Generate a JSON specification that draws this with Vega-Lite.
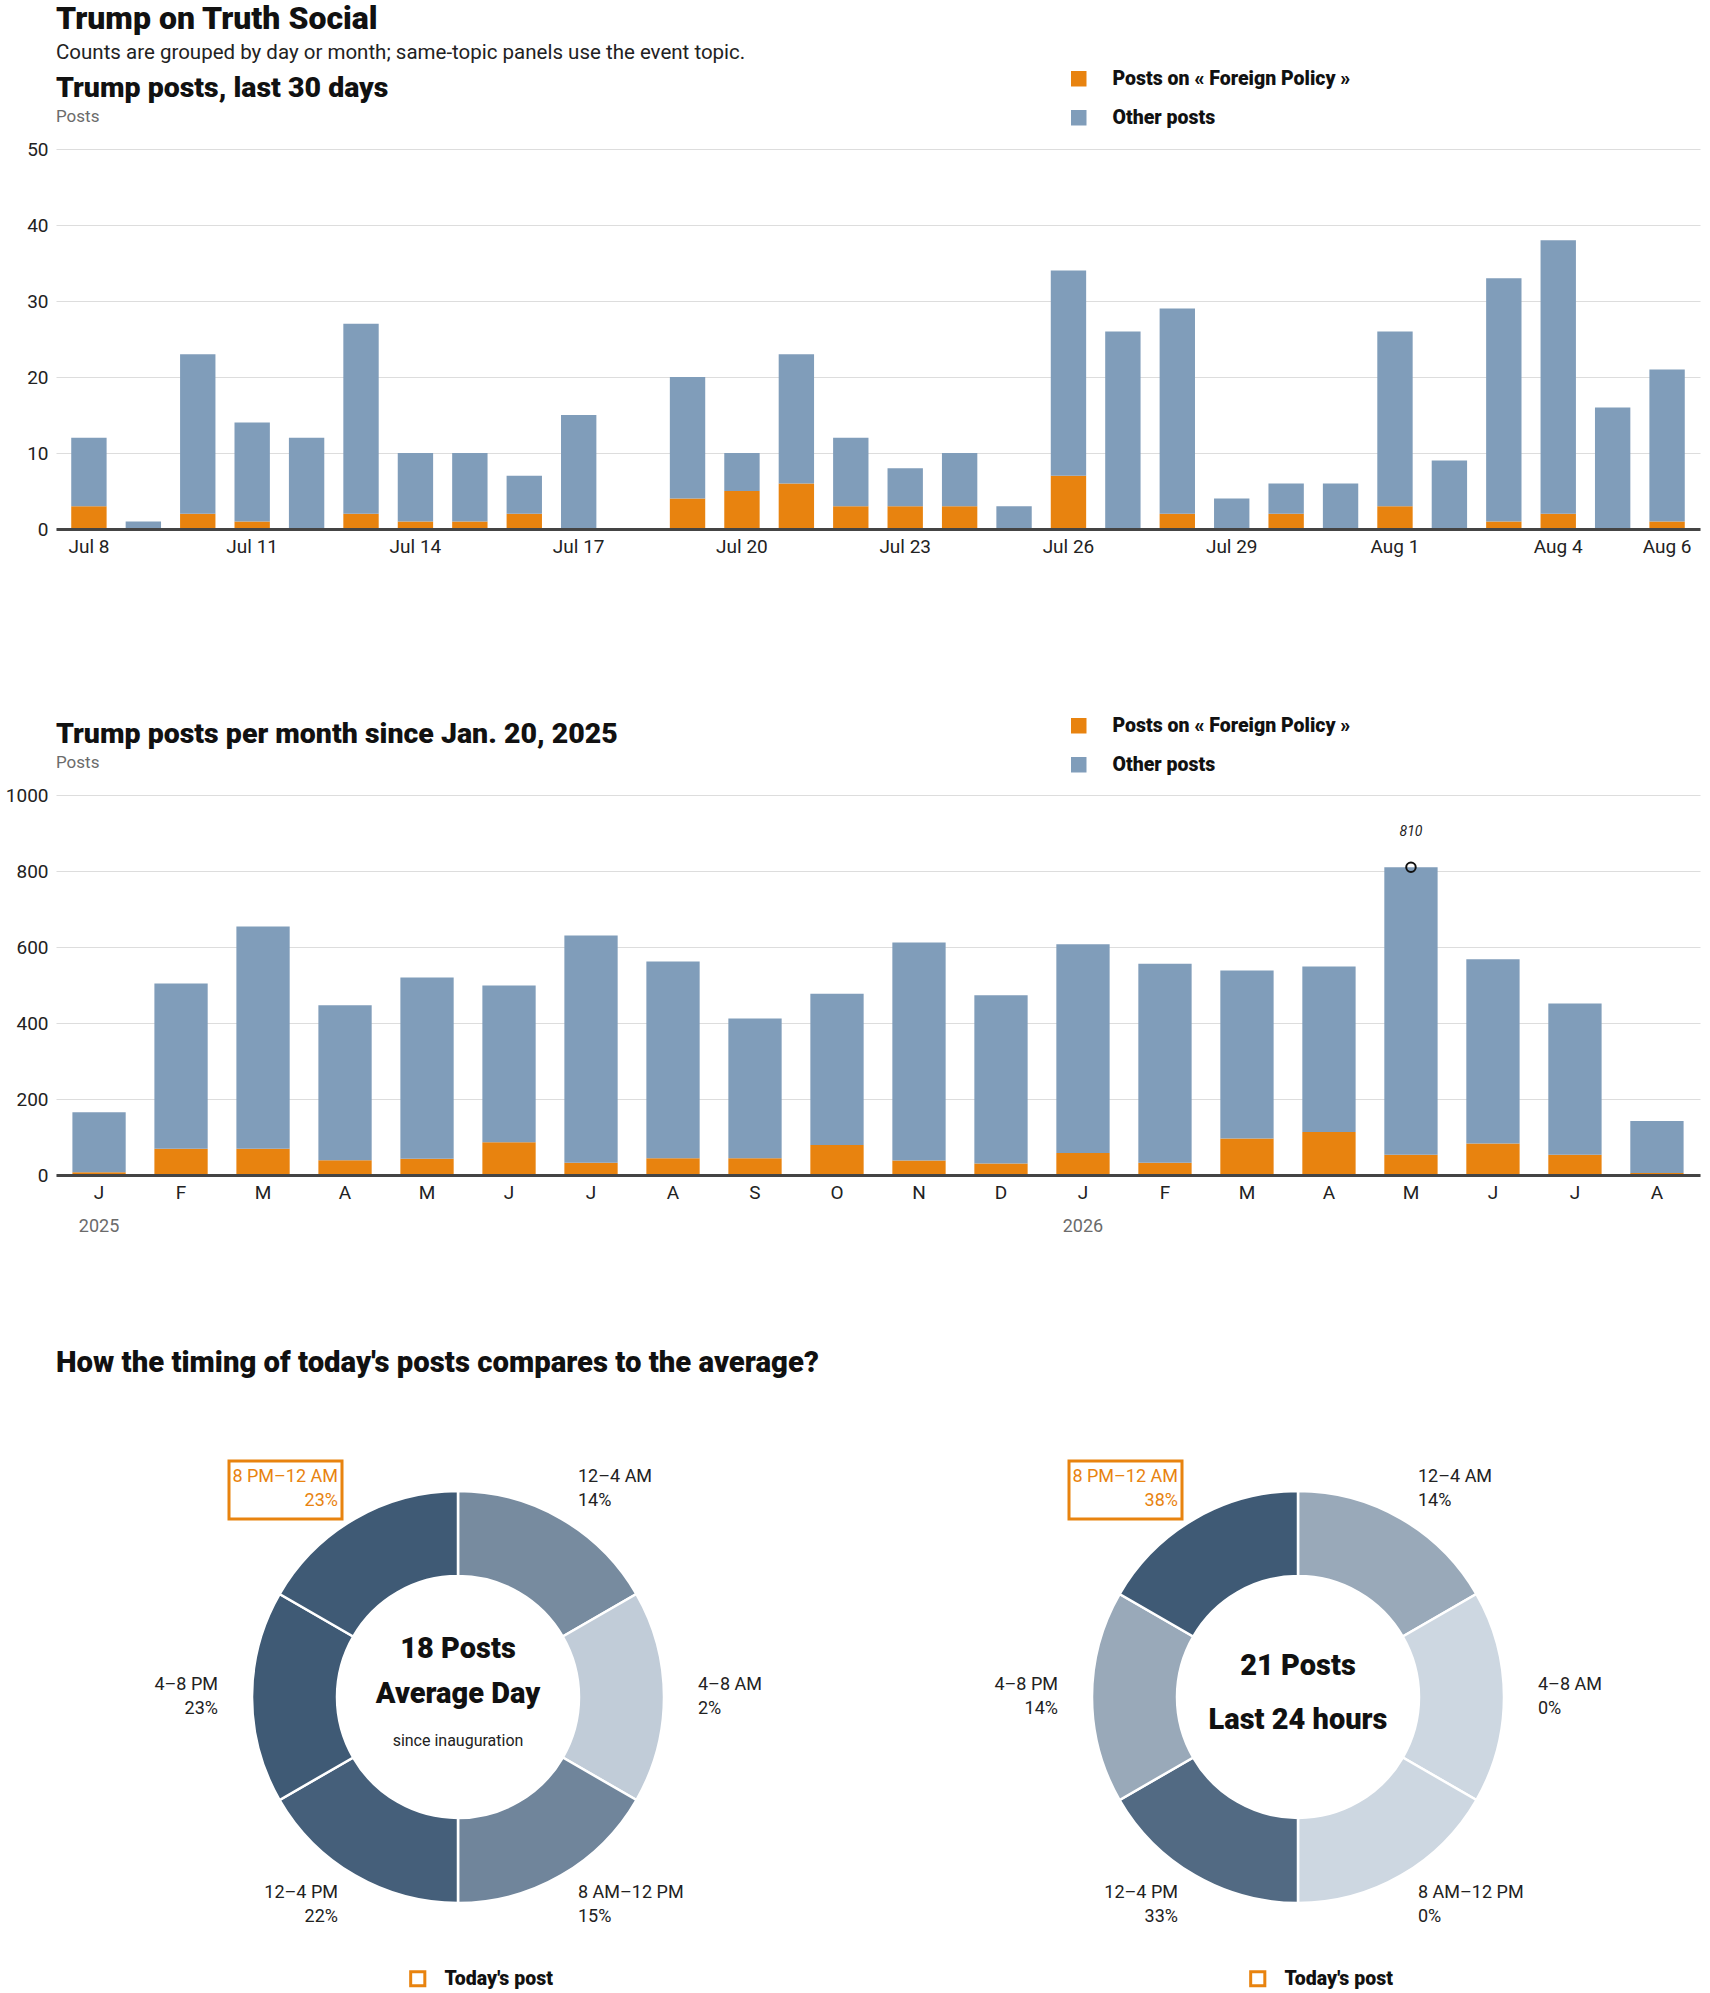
{
  "$schema": "https://vega.github.io/schema/vega-lite/v6.json",
  "background": "white",
  "padding": {"left": 5, "top": 2, "right": 5, "bottom": 2},
  "config": {
    "font": "Roboto",
    "view": {"stroke": null},
    "axis": {"labelFont": "Roboto", "labelFontSize": 19, "labelColor": "#222"},
    "title": {"font": "Roboto", "fontWeight": 900, "fontSize": 28.5, "color": "#111", "anchor": "start", "frame": "group", "subtitleFont": "Roboto", "subtitleFontSize": 17, "subtitleColor": "#6b6b6b", "subtitlePadding": 7},
    "legend": {"labelFont": "Roboto", "labelFontSize": 19.5, "labelFontWeight": 900, "labelColor": "#111", "padding": 0, "labelLimit": 500}
  },
  "title": {"text": "Trump on Truth Social", "subtitle": "Counts are grouped by day or month; same-topic panels use the event topic.", "fontSize": 32, "subtitleFontSize": 20.5, "subtitleColor": "#222", "subtitlePadding": 7, "offset": 5},
  "datasets": {
    "daily": [
      {"day": "Jul 8", "foreign": 3, "other": 9},
      {"day": "Jul 9", "foreign": 0, "other": 1},
      {"day": "Jul 10", "foreign": 2, "other": 21},
      {"day": "Jul 11", "foreign": 1, "other": 13},
      {"day": "Jul 12", "foreign": 0, "other": 12},
      {"day": "Jul 13", "foreign": 2, "other": 25},
      {"day": "Jul 14", "foreign": 1, "other": 9},
      {"day": "Jul 15", "foreign": 1, "other": 9},
      {"day": "Jul 16", "foreign": 2, "other": 5},
      {"day": "Jul 17", "foreign": 0, "other": 15},
      {"day": "Jul 18", "foreign": 0, "other": 0},
      {"day": "Jul 19", "foreign": 4, "other": 16},
      {"day": "Jul 20", "foreign": 5, "other": 5},
      {"day": "Jul 21", "foreign": 6, "other": 17},
      {"day": "Jul 22", "foreign": 3, "other": 9},
      {"day": "Jul 23", "foreign": 3, "other": 5},
      {"day": "Jul 24", "foreign": 3, "other": 7},
      {"day": "Jul 25", "foreign": 0, "other": 3},
      {"day": "Jul 26", "foreign": 7, "other": 27},
      {"day": "Jul 27", "foreign": 0, "other": 26},
      {"day": "Jul 28", "foreign": 2, "other": 27},
      {"day": "Jul 29", "foreign": 0, "other": 4},
      {"day": "Jul 30", "foreign": 2, "other": 4},
      {"day": "Jul 31", "foreign": 0, "other": 6},
      {"day": "Aug 1", "foreign": 3, "other": 23},
      {"day": "Aug 2", "foreign": 0, "other": 9},
      {"day": "Aug 3", "foreign": 1, "other": 32},
      {"day": "Aug 4", "foreign": 2, "other": 36},
      {"day": "Aug 5", "foreign": 0, "other": 16},
      {"day": "Aug 6", "foreign": 1, "other": 20}
    ],
    "monthly": [
      {"month": "2025-01", "foreign": 7, "other": 158, "year": "2025"},
      {"month": "2025-02", "foreign": 69, "other": 435},
      {"month": "2025-03", "foreign": 69, "other": 585},
      {"month": "2025-04", "foreign": 39, "other": 408},
      {"month": "2025-05", "foreign": 43, "other": 477},
      {"month": "2025-06", "foreign": 86, "other": 413},
      {"month": "2025-07", "foreign": 32, "other": 598},
      {"month": "2025-08", "foreign": 44, "other": 518},
      {"month": "2025-09", "foreign": 44, "other": 368},
      {"month": "2025-10", "foreign": 79, "other": 398},
      {"month": "2025-11", "foreign": 38, "other": 574},
      {"month": "2025-12", "foreign": 30, "other": 443},
      {"month": "2026-01", "foreign": 58, "other": 549, "year": "2026"},
      {"month": "2026-02", "foreign": 32, "other": 524},
      {"month": "2026-03", "foreign": 96, "other": 442},
      {"month": "2026-04", "foreign": 113, "other": 436},
      {"month": "2026-05", "foreign": 53, "other": 757},
      {"month": "2026-06", "foreign": 83, "other": 485},
      {"month": "2026-07", "foreign": 53, "other": 398},
      {"month": "2026-08", "foreign": 5, "other": 137}
    ],
    "peak": [{"month": "2026-05", "posts": 810}],
    "avg": [
      {"period": "12–4 AM", "start": 0, "hours": 4, "share": 0.14, "today": false},
      {"period": "4–8 AM", "start": 4, "hours": 4, "share": 0.02, "today": false},
      {"period": "8 AM–12 PM", "start": 8, "hours": 4, "share": 0.15, "today": false},
      {"period": "12–4 PM", "start": 12, "hours": 4, "share": 0.22, "today": false},
      {"period": "4–8 PM", "start": 16, "hours": 4, "share": 0.23, "today": false},
      {"period": "8 PM–12 AM", "start": 20, "hours": 4, "share": 0.23, "today": true}
    ],
    "last24": [
      {"period": "12–4 AM", "start": 0, "hours": 4, "share": 0.14, "today": false},
      {"period": "4–8 AM", "start": 4, "hours": 4, "share": 0.0, "today": false},
      {"period": "8 AM–12 PM", "start": 8, "hours": 4, "share": 0.0, "today": false},
      {"period": "12–4 PM", "start": 12, "hours": 4, "share": 0.33, "today": false},
      {"period": "4–8 PM", "start": 16, "hours": 4, "share": 0.14, "today": false},
      {"period": "8 PM–12 AM", "start": 20, "hours": 4, "share": 0.38, "today": true}
    ]
  },
  "resolve": {"scale": {"color": "independent", "stroke": "independent"}, "legend": {"color": "independent", "stroke": "independent"}},
  "spacing": 112,
  "vconcat": [
    {
      "spacing": 160,
      "resolve": {"scale": {"color": "independent", "x": "independent", "y": "independent"}, "legend": {"color": "independent"}},
      "vconcat": [
        {
          "title": {"text": "Trump posts, last 30 days", "subtitle": "Posts", "offset": -56},
          "width": 1644,
          "height": 380,
          "data": {"name": "daily"},
          "transform": [{"fold": ["foreign", "other"], "as": ["type", "posts"]}],
          "mark": {"type": "bar"},
          "encoding": {
            "x": {"field": "day", "type": "ordinal", "sort": null, "title": null,
              "scale": {"paddingInner": 0.35, "paddingOuter": 0.28},
              "axis": {"values": ["Jul 8", "Jul 11", "Jul 14", "Jul 17", "Jul 20", "Jul 23", "Jul 26", "Jul 29", "Aug 1", "Aug 4", "Aug 6"], "labelAngle": 0, "ticks": false, "domainColor": "#444", "domainWidth": 3, "labelPadding": 8, "zindex": 1}},
            "y": {"field": "posts", "type": "quantitative", "title": null,
              "scale": {"domain": [0, 50]},
              "axis": {"values": [0, 10, 20, 30, 40, 50], "domain": false, "ticks": false, "gridColor": "#dddddd", "labelPadding": 8}},
            "color": {"field": "type", "type": "nominal",
              "scale": {"domain": ["foreign", "other"], "range": ["#e8830f", "#809dba"]},
              "legend": {"title": null, "orient": "none", "legendX": 1013, "legendY": -80, "symbolType": "square", "symbolSize": 240, "symbolStrokeWidth": 0, "symbolOpacity": 1, "rowPadding": 18, "labelOffset": 24,
                "labelExpr": "datum.value === 'foreign' ? 'Posts on « Foreign Policy »' : 'Other posts'"}},
            "order": {"field": "type", "sort": "ascending"}
          }
        },
        {
          "title": {"text": "Trump posts per month since Jan. 20, 2025", "subtitle": "Posts", "offset": -55},
          "width": 1644,
          "height": 380,
          "data": {"name": "monthly"},
          "encoding": {
            "x": {"field": "month", "type": "ordinal", "title": null,
              "scale": {"domain": ["2025-01", "2025-02", "2025-03", "2025-04", "2025-05", "2025-06", "2025-07", "2025-08", "2025-09", "2025-10", "2025-11", "2025-12", "2026-01", "2026-02", "2026-03", "2026-04", "2026-05", "2026-06", "2026-07", "2026-08"], "paddingInner": 0.35, "paddingOuter": 0.2},
              "axis": {"labelExpr": "['J','F','M','A','M','J','J','A','S','O','N','D'][toNumber(substring(datum.value, 5, 7)) - 1]", "labelAngle": 0, "ticks": false, "domainColor": "#444", "domainWidth": 3, "labelPadding": 8, "zindex": 1}}
          },
          "layer": [
            {
              "transform": [{"fold": ["foreign", "other"], "as": ["type", "posts"]}],
              "mark": {"type": "bar"},
              "encoding": {
                "y": {"field": "posts", "type": "quantitative", "title": null,
                  "scale": {"domain": [0, 1000]},
                  "axis": {"values": [0, 200, 400, 600, 800, 1000], "format": "d", "domain": false, "ticks": false, "gridColor": "#dddddd", "labelPadding": 8}},
                "color": {"field": "type", "type": "nominal",
                  "scale": {"domain": ["foreign", "other"], "range": ["#e8830f", "#809dba"]},
                  "legend": {"title": null, "orient": "none", "legendX": 1013, "legendY": -79, "symbolType": "square", "symbolSize": 240, "symbolStrokeWidth": 0, "symbolOpacity": 1, "rowPadding": 18, "labelOffset": 24,
                    "labelExpr": "datum.value === 'foreign' ? 'Posts on « Foreign Policy »' : 'Other posts'"}},
                "order": {"field": "type", "sort": "ascending"}
              }
            },
            {
              "transform": [{"filter": "isValid(datum.year)"}],
              "mark": {"type": "text", "dy": 52, "baseline": "middle", "fontSize": 18, "color": "#6b6b6b"},
              "encoding": {
                "y": {"datum": 0, "type": "quantitative", "title": null},
                "text": {"field": "year"}
              }
            },
            {
              "data": {"name": "peak"},
              "mark": {"type": "point", "shape": "circle", "filled": false, "stroke": "#111", "strokeWidth": 2, "size": 90, "opacity": 1},
              "encoding": {"y": {"field": "posts", "type": "quantitative", "title": null}}
            },
            {
              "data": {"name": "peak"},
              "mark": {"type": "text", "dy": -35, "baseline": "middle", "fontStyle": "italic", "fontSize": 14, "color": "#222"},
              "encoding": {"y": {"field": "posts", "type": "quantitative", "title": null}, "text": {"field": "posts"}}
            }
          ]
        }
      ]
    },
    {
      "title": {"text": "How the timing of today's posts compares to the average?", "fontSize": 29.3, "offset": 39},
      "spacing": 36,
      "resolve": {"scale": {"color": "independent", "stroke": "independent", "theta": "independent"}, "legend": {"color": "independent", "stroke": "independent"}},
      "hconcat": [
        {
          "width": 804,
          "height": 560,
          "data": {"name": "avg"},
          "layer": [
            {
              "mark": {"type": "arc", "radius": 206, "innerRadius": 121, "stroke": "white", "strokeWidth": 2.5},
              "encoding": {
                "theta": {"field": "hours", "type": "quantitative", "stack": true},
                "order": {"field": "start", "type": "quantitative", "sort": "ascending"},
                "color": {"field": "share", "type": "quantitative", "scale": {"zero": true, "range": ["#cdd7e1", "#3f5a75"], "interpolate": "rgb"}, "legend": null}
              }
            },
            {
              "mark": {"type": "text", "radius": 240, "align": "left", "baseline": "middle", "dy": -12, "fontSize": 18},
              "encoding": {
                "theta": {"field": "hours", "type": "quantitative", "stack": true},
                "order": {"field": "start", "type": "quantitative", "sort": "ascending"},
                "text": {"condition": {"test": "datum.start < 12", "field": "period"}, "value": ""},
                "color": {"condition": {"test": "datum.today", "value": "#e8830f"}, "value": "#222"}
              }
            },
            {
              "mark": {"type": "text", "radius": 240, "align": "left", "baseline": "middle", "dy": 12, "fontSize": 18},
              "encoding": {
                "theta": {"field": "hours", "type": "quantitative", "stack": true},
                "order": {"field": "start", "type": "quantitative", "sort": "ascending"},
                "text": {"condition": {"test": "datum.start < 12", "field": "share", "format": ".0%"}, "value": ""},
                "color": {"condition": {"test": "datum.today", "value": "#e8830f"}, "value": "#222"}
              }
            },
            {
              "mark": {"type": "text", "radius": 240, "align": "right", "baseline": "middle", "dy": -12, "fontSize": 18},
              "encoding": {
                "theta": {"field": "hours", "type": "quantitative", "stack": true},
                "order": {"field": "start", "type": "quantitative", "sort": "ascending"},
                "text": {"condition": {"test": "datum.start >= 12", "field": "period"}, "value": ""},
                "color": {"condition": {"test": "datum.today", "value": "#e8830f"}, "value": "#222"}
              }
            },
            {
              "mark": {"type": "text", "radius": 240, "align": "right", "baseline": "middle", "dy": 12, "fontSize": 18},
              "encoding": {
                "theta": {"field": "hours", "type": "quantitative", "stack": true},
                "order": {"field": "start", "type": "quantitative", "sort": "ascending"},
                "text": {"condition": {"test": "datum.start >= 12", "field": "share", "format": ".0%"}, "value": ""},
                "color": {"condition": {"test": "datum.today", "value": "#e8830f"}, "value": "#222"}
              }
            },
            {
              "data": {"values": [{"headline": "18 Posts", "label": "Average Day", "note": "since inauguration"}]},
              "mark": {"type": "text", "dy": -48, "baseline": "middle", "font": "Roboto", "fontWeight": 900, "fontSize": 29, "color": "#111"},
              "encoding": {"text": {"field": "headline"}}
            },
            {
              "data": {"values": [{"headline": "18 Posts", "label": "Average Day", "note": "since inauguration"}]},
              "mark": {"type": "text", "dy": -3, "baseline": "middle", "font": "Roboto", "fontWeight": 900, "fontSize": 29, "color": "#111"},
              "encoding": {"text": {"field": "label"}}
            },
            {
              "data": {"values": [{"headline": "18 Posts", "label": "Average Day", "note": "since inauguration"}]},
              "mark": {"type": "text", "dy": 44, "baseline": "middle", "fontSize": 16, "color": "#222"},
              "encoding": {"text": {"field": "note"}}
            },
            {
              "transform": [{"filter": "datum.today"}],
              "mark": {"type": "point", "shape": "M-2.29,-2.36H-1.16V-1.78H-2.29Z", "size": 40000, "filled": false, "strokeWidth": 3, "opacity": 1},
              "encoding": {
                "stroke": {"datum": "Today's post", "type": "nominal", "scale": {"range": ["#e8830f"]},
                  "legend": {"title": null, "orient": "none", "legendX": 352, "legendY": 552, "symbolType": "square", "symbolSize": 200, "symbolStrokeWidth": 3, "labelOffset": 17,
                    "encode": {"symbols": {"update": {"shape": {"value": "square"}, "fill": {"value": "transparent"}, "stroke": {"value": "#e8830f"}, "strokeWidth": {"value": 3}}}}}}
              }
            }
          ]
        },
        {
          "width": 804,
          "height": 560,
          "data": {"name": "last24"},
          "layer": [
            {
              "mark": {"type": "arc", "radius": 206, "innerRadius": 121, "stroke": "white", "strokeWidth": 2.5},
              "encoding": {
                "theta": {"field": "hours", "type": "quantitative", "stack": true},
                "order": {"field": "start", "type": "quantitative", "sort": "ascending"},
                "color": {"field": "share", "type": "quantitative", "scale": {"zero": true, "range": ["#cdd7e1", "#3f5a75"], "interpolate": "rgb"}, "legend": null}
              }
            },
            {
              "mark": {"type": "text", "radius": 240, "align": "left", "baseline": "middle", "dy": -12, "fontSize": 18},
              "encoding": {
                "theta": {"field": "hours", "type": "quantitative", "stack": true},
                "order": {"field": "start", "type": "quantitative", "sort": "ascending"},
                "text": {"condition": {"test": "datum.start < 12", "field": "period"}, "value": ""},
                "color": {"condition": {"test": "datum.today", "value": "#e8830f"}, "value": "#222"}
              }
            },
            {
              "mark": {"type": "text", "radius": 240, "align": "left", "baseline": "middle", "dy": 12, "fontSize": 18},
              "encoding": {
                "theta": {"field": "hours", "type": "quantitative", "stack": true},
                "order": {"field": "start", "type": "quantitative", "sort": "ascending"},
                "text": {"condition": {"test": "datum.start < 12", "field": "share", "format": ".0%"}, "value": ""},
                "color": {"condition": {"test": "datum.today", "value": "#e8830f"}, "value": "#222"}
              }
            },
            {
              "mark": {"type": "text", "radius": 240, "align": "right", "baseline": "middle", "dy": -12, "fontSize": 18},
              "encoding": {
                "theta": {"field": "hours", "type": "quantitative", "stack": true},
                "order": {"field": "start", "type": "quantitative", "sort": "ascending"},
                "text": {"condition": {"test": "datum.start >= 12", "field": "period"}, "value": ""},
                "color": {"condition": {"test": "datum.today", "value": "#e8830f"}, "value": "#222"}
              }
            },
            {
              "mark": {"type": "text", "radius": 240, "align": "right", "baseline": "middle", "dy": 12, "fontSize": 18},
              "encoding": {
                "theta": {"field": "hours", "type": "quantitative", "stack": true},
                "order": {"field": "start", "type": "quantitative", "sort": "ascending"},
                "text": {"condition": {"test": "datum.start >= 12", "field": "share", "format": ".0%"}, "value": ""},
                "color": {"condition": {"test": "datum.today", "value": "#e8830f"}, "value": "#222"}
              }
            },
            {
              "data": {"values": [{"headline": "21 Posts", "label": "Last 24 hours"}]},
              "mark": {"type": "text", "dy": -31, "baseline": "middle", "font": "Roboto", "fontWeight": 900, "fontSize": 29, "color": "#111"},
              "encoding": {"text": {"field": "headline"}}
            },
            {
              "data": {"values": [{"headline": "21 Posts", "label": "Last 24 hours"}]},
              "mark": {"type": "text", "dy": 23, "baseline": "middle", "font": "Roboto", "fontWeight": 900, "fontSize": 29, "color": "#111"},
              "encoding": {"text": {"field": "label"}}
            },
            {
              "transform": [{"filter": "datum.today"}],
              "mark": {"type": "point", "shape": "M-2.29,-2.36H-1.16V-1.78H-2.29Z", "size": 40000, "filled": false, "strokeWidth": 3, "opacity": 1},
              "encoding": {
                "stroke": {"datum": "Today's post", "type": "nominal", "scale": {"range": ["#e8830f"]},
                  "legend": {"title": null, "orient": "none", "legendX": 352, "legendY": 552, "symbolType": "square", "symbolSize": 200, "symbolStrokeWidth": 3, "labelOffset": 17,
                    "encode": {"symbols": {"update": {"shape": {"value": "square"}, "fill": {"value": "transparent"}, "stroke": {"value": "#e8830f"}, "strokeWidth": {"value": 3}}}}}}
              }
            }
          ]
        }
      ]
    }
  ]
}
